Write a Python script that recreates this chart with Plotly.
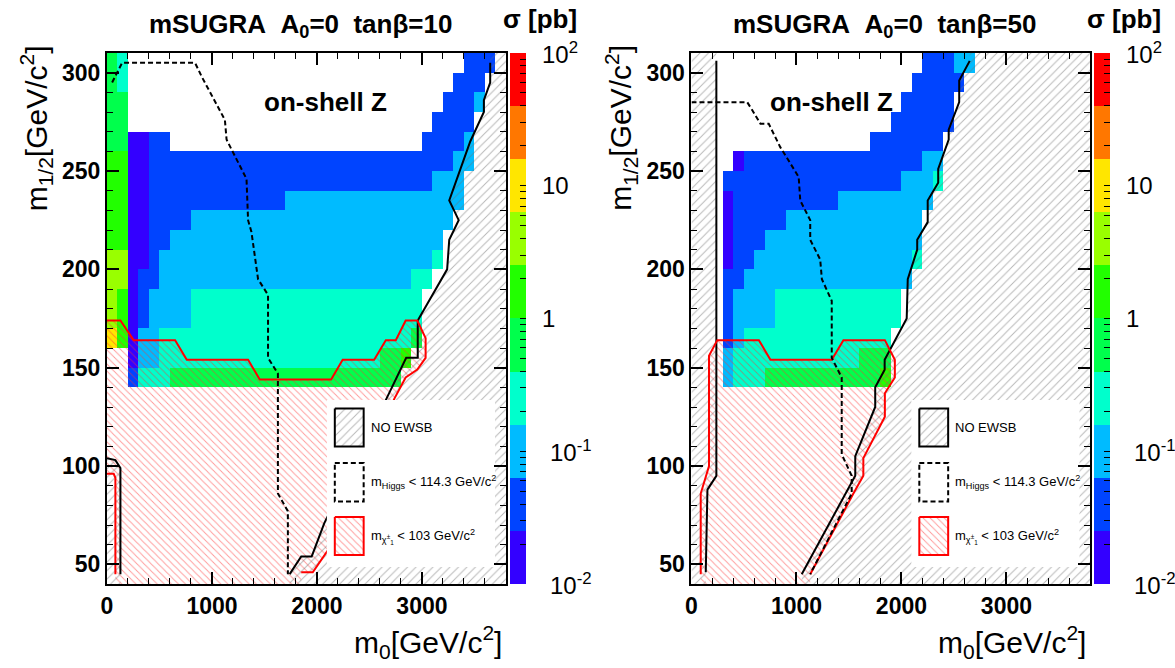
import numpy as np
import plotly.graph_objects as go

W, H = 1175, 668
FONT = "Liberation Sans, Arial, Helvetica, sans-serif"

# ---------------- data ----------------
M0_EDGES = list(range(0, 3900, 100))      # m0 bin edges [GeV]
M12_EDGES = list(range(40, 320, 10))      # m1/2 bin edges [GeV]
M0_RANGE = [0, 3800]
M12_RANGE = [40, 310]

# sigma [pb] representative value of each colour band (10 bands from 1e-2 to 1e2)
SIGMA_BAND = [0.0158, 0.0398, 0.1, 0.251, 0.631, 1.585, 3.98, 10.0, 25.1, 63.1]
BAND_COLORS = ["#3300ff", "#0044ff", "#00bbff", "#00ffcc", "#00ff4c",
               "#22ff00", "#99ff00", "#ffe600", "#ff7700", "#ff0000"]

# run-length rows of band index per 100 GeV m0 cell, top row = m1/2 300-310, '.' = no point
GRID_TAN10 = [
    [('4', 1), ('3', 1), ('.', 32), ('1', 3), ('.', 1)],
    [('4', 1), ('3', 1), ('.', 31), ('1', 3), ('.', 2)],
    [('4', 2), ('.', 30), ('1', 3), ('2', 1), ('.', 2)],
    [('4', 2), ('.', 29), ('1', 4), ('.', 3)],
    [('4', 2), ('0', 2), ('1', 2), ('.', 24), ('1', 4), ('2', 1), ('.', 3)],
    [('5', 2), ('0', 2), ('1', 29), ('2', 2), ('.', 3)],
    [('5', 2), ('0', 2), ('1', 27), ('2', 3), ('.', 4)],
    [('5', 2), ('0', 2), ('1', 13), ('2', 17), ('.', 4)],
    [('5', 2), ('0', 2), ('1', 4), ('2', 25), ('.', 5)],
    [('5', 2), ('0', 2), ('1', 2), ('2', 26), ('.', 6)],
    [('6', 2), ('0', 2), ('1', 1), ('2', 26), ('3', 1), ('.', 6)],
    [('6', 2), ('0', 1), ('1', 2), ('2', 24), ('3', 2), ('.', 7)],
    [('6', 1), ('5', 1), ('0', 1), ('1', 1), ('2', 4), ('3', 22), ('.', 8)],
    [('6', 1), ('5', 1), ('0', 1), ('1', 1), ('2', 4), ('3', 22), ('.', 8)],
    [('7', 1), ('5', 1), ('0', 1), ('2', 2), ('3', 24), ('4', 1), ('.', 8)],
    [('.', 2), ('0', 1), ('2', 2), ('3', 21), ('4', 2), ('5', 1), ('.', 9)],
    [('.', 2), ('1', 1), ('3', 3), ('4', 22), ('.', 10)],
] + [[('.', 38)]] * 10

GRID_TAN50 = [
    [('.', 22), ('1', 3), ('2', 2), ('.', 11)],
    [('.', 21), ('1', 5), ('.', 12)],
    [('.', 20), ('1', 5), ('.', 13)],
    [('.', 19), ('1', 6), ('.', 13)],
    [('.', 17), ('1', 7), ('.', 14)],
    [('.', 4), ('0', 1), ('1', 17), ('2', 2), ('.', 14)],
    [('.', 3), ('1', 17), ('2', 3), ('3', 1), ('.', 14)],
    [('.', 3), ('0', 1), ('1', 10), ('2', 9), ('.', 15)],
    [('.', 3), ('0', 1), ('1', 5), ('2', 13), ('.', 16)],
    [('.', 3), ('0', 1), ('1', 3), ('2', 15), ('.', 16)],
    [('.', 3), ('0', 1), ('1', 2), ('2', 15), ('3', 1), ('.', 16)],
    [('.', 3), ('1', 2), ('2', 16), ('.', 17)],
    [('.', 3), ('1', 1), ('2', 4), ('3', 12), ('.', 18)],
    [('.', 3), ('1', 1), ('2', 4), ('3', 12), ('.', 18)],
    [('.', 3), ('1', 1), ('2', 1), ('3', 14), ('.', 19)],
    [('.', 3), ('2', 1), ('3', 12), ('4', 3), ('.', 19)],
    [('.', 3), ('2', 1), ('3', 3), ('4', 11), ('5', 1), ('.', 19)],
] + [[('.', 38)]] * 10

# ---- tan beta = 10 contours ----
EWSB10_X = [3650, 3650, 3590, 3590, 3460, 3260, 3350, 3260, 3240, 2960, 2960, 2850, 2660, 2070, 1950, 1850, 1740]
EWSB10_Y = [305, 295, 286, 280, 265, 235, 225, 215, 200, 174, 155, 155, 134, 71, 54, 54, 45]
EWSB10C_X = [0, 80, 128, 128]
EWSB10C_Y = [104, 103, 99, 45]
HIGGS10_X = [49, 112, 144, 839, 902, 1123, 1139, 1186, 1329, 1344, 1376, 1439, 1534, 1534, 1628, 1628, 1723, 1723]
HIGGS10_Y = [295, 302, 305, 305, 298, 276, 266, 261, 246, 225, 219, 195, 187, 155, 147, 86, 77, 45]
CHI10_X = [0, 128, 254, 649, 760, 1344, 1455, 2135, 2245, 2545, 2656, 2751, 2845, 2956, 3035, 3035, 2956, 2845, 2735, 2166, 1960, 1850]
CHI10_Y = [174, 174, 164, 164, 154, 154, 144, 144, 154, 154, 164, 164, 174, 174, 165, 155, 149, 145, 134, 62, 46, 46]
CHI10C_X = [0, 64, 80, 80]
CHI10C_Y = [96, 96, 94, 45]

# ---- tan beta = 50 contours ----
EWSB50L_X = [237, 237, 152, 136]
EWSB50L_Y = [306, 95, 88, 46]
EWSB50R_X = [2650, 2550, 2550, 2450, 2450, 2350, 2350, 2250, 2250, 2150, 2150, 2060, 2050, 1940, 1840, 1840, 1750, 1750, 1560, 1560, 1050]
EWSB50R_Y = [306, 296, 285, 271, 266, 251, 244, 235, 224, 215, 210, 195, 175, 164, 154, 149, 140, 130, 105, 95, 45]
HIGGS50_X = [0, 531, 578, 657, 736, 847, 1021, 1036, 1131, 1131, 1226, 1242, 1336, 1336, 1431, 1431, 1526, 1526, 1131]
HIGGS50_Y = [285, 285, 281, 274, 274, 262, 247, 235, 225, 215, 205, 195, 184, 155, 145, 106, 95, 86, 45]
CHI50_X = [88, 88, 167, 167, 246, 642, 752, 1336, 1447, 1842, 1937, 1937, 1842, 1842, 1637, 1637, 1542, 1131]
CHI50_Y = [45, 86, 100, 156, 164, 164, 154, 154, 164, 164, 154, 145, 137, 125, 104, 95, 86, 45]

TITLES = ["mSUGRA\u00a0\u00a0A<sub>0</sub>=0\u00a0\u00a0tanβ=10",
          "mSUGRA\u00a0\u00a0A<sub>0</sub>=0\u00a0\u00a0tanβ=50"]
LEGEND_TEXT = ["NO EWSB",
               "m<sub>Higgs</sub> < 114.3 GeV/c<sup>2</sup>",
               "m<sub>χ<sup>±</sup><sub>1</sub></sub> < 103 GeV/c<sup>2</sup>"]
CB_LABELS = [(-2, "10<sup>-2</sup>"), (-1, "10<sup>-1</sup>"), (0, "1"), (1, "10"), (2, "10<sup>2</sup>")]

# ---------------- layout geometry (pixels) ----------------
PANEL_X = [(101.5, 502.5), (689.0, 1090.0)]
PY_TOP, PY_BOT = 53.0, 584.0
CB_X = [507.0, 1094.0]
ONSHELL_DX = [220, 141]


def expand(runs):
    s = "".join(ch * n for ch, n in runs)
    assert len(s) == 38, len(s)
    return s


def grid_to_z(rows):
    z = []
    for runs in reversed(rows):
        s = expand(runs)
        z.append([None if c == "." else float(np.log10(SIGMA_BAND[int(c)])) for c in s])
    return z


def p2d(ip, px, py):
    x0, x1 = PANEL_X[ip]
    X = M0_RANGE[0] + (px - x0) / (x1 - x0) * (M0_RANGE[1] - M0_RANGE[0])
    Y = M12_RANGE[0] + (PY_BOT - py) / (PY_BOT - PY_TOP) * (M12_RANGE[1] - M12_RANGE[0])
    return X, Y


def rect(ip, pxa, pya, pxb, pyb):
    xa, ya = p2d(ip, pxa, pya)
    xb, yb = p2d(ip, pxb, pyb)
    return [xa, xb, xb, xa, xa], [ya, ya, yb, yb, ya]


colorscale = []
for i, c in enumerate(BAND_COLORS):
    colorscale.append([i / 10, c])
    colorscale.append([(i + 1) / 10, c])

fig = go.Figure()

GRAY = dict(shape="/", fgcolor="#707070", size=6, solidity=0.16)
RED = dict(shape="\\", fgcolor="#ff3030", size=5, solidity=0.18)
NOFILL = "rgba(0,0,0,0)"

panels = [
    dict(grid=GRID_TAN10,
         red_poly=(CHI10_X + [CHI10_X[-1], CHI10C_X[-1]] + CHI10C_X[::-1],
                   CHI10_Y + [M12_RANGE[0], M12_RANGE[0]] + CHI10C_Y[::-1]),
         gray_polys=[
             (EWSB10_X + [EWSB10_X[-1], M0_RANGE[1], M0_RANGE[1], EWSB10_X[0]],
              EWSB10_Y + [M12_RANGE[0], M12_RANGE[0], M12_RANGE[1], M12_RANGE[1]]),
             (EWSB10C_X + [EWSB10C_X[-1], 0], EWSB10C_Y + [M12_RANGE[0], M12_RANGE[0]]),
         ],
         black=[(EWSB10_X, EWSB10_Y), (EWSB10C_X, EWSB10C_Y)],
         dashed=[(HIGGS10_X, HIGGS10_Y)],
         red=[(CHI10_X, CHI10_Y), (CHI10C_X, CHI10C_Y)]),
    dict(grid=GRID_TAN50,
         red_poly=(CHI50_X + [CHI50_X[-1], CHI50_X[0]],
                   CHI50_Y + [M12_RANGE[0], M12_RANGE[0]]),
         gray_polys=[
             (EWSB50L_X + [EWSB50L_X[-1], 0, 0, EWSB50L_X[0]],
              EWSB50L_Y + [M12_RANGE[0], M12_RANGE[0], M12_RANGE[1], M12_RANGE[1]]),
             (EWSB50R_X + [EWSB50R_X[-1], M0_RANGE[1], M0_RANGE[1], EWSB50R_X[0]],
              EWSB50R_Y + [M12_RANGE[0], M12_RANGE[0], M12_RANGE[1], M12_RANGE[1]]),
         ],
         black=[(EWSB50L_X, EWSB50L_Y), (EWSB50R_X, EWSB50R_Y)],
         dashed=[(HIGGS50_X, HIGGS50_Y)],
         red=[(CHI50_X, CHI50_Y)]),
]

annotations = []
for ip, P in enumerate(panels):
    xa = "x" if ip == 0 else "x2"
    ya = "y" if ip == 0 else "y2"
    ca = "coloraxis" if ip == 0 else "coloraxis2"
    fig.add_trace(go.Heatmap(x=M0_EDGES, y=M12_EDGES, z=grid_to_z(P["grid"]),
                             coloraxis=ca, xaxis=xa, yaxis=ya, hoverongaps=False))
    rx, ry = P["red_poly"]
    fig.add_trace(go.Scatter(x=rx, y=ry, mode="lines", fill="toself", fillcolor=NOFILL,
                             fillpattern=RED, line=dict(width=0), xaxis=xa, yaxis=ya,
                             showlegend=False, hoverinfo="skip"))
    for gx, gy in P["gray_polys"]:
        fig.add_trace(go.Scatter(x=gx, y=gy, mode="lines", fill="toself", fillcolor=NOFILL,
                                 fillpattern=GRAY, line=dict(width=0), xaxis=xa, yaxis=ya,
                                 showlegend=False, hoverinfo="skip"))
    for lx, ly in P["black"]:
        fig.add_trace(go.Scatter(x=lx, y=ly, mode="lines", line=dict(color="black", width=2),
                                 xaxis=xa, yaxis=ya, showlegend=False, hoverinfo="skip"))
    for lx, ly in P["red"]:
        fig.add_trace(go.Scatter(x=lx, y=ly, mode="lines", line=dict(color="red", width=2),
                                 xaxis=xa, yaxis=ya, showlegend=False, hoverinfo="skip"))
    for lx, ly in P["dashed"]:
        fig.add_trace(go.Scatter(x=lx, y=ly, mode="lines",
                                 line=dict(color="black", width=2, dash="5px,3px"),
                                 xaxis=xa, yaxis=ya, showlegend=False, hoverinfo="skip"))

    # legend box
    x0 = PANEL_X[ip][0]
    bx, by = rect(ip, x0 + 221, 400, x0 + 390, 567)
    fig.add_trace(go.Scatter(x=bx, y=by, mode="lines", fill="toself", fillcolor="white",
                             line=dict(width=0), xaxis=xa, yaxis=ya, showlegend=False,
                             hoverinfo="skip"))
    rows = [(408.5, 446.5), (463.0, 501.5), (517.0, 555.0)]
    styles = [dict(line=dict(color="black", width=2), pat=GRAY),
              dict(line=dict(color="black", width=2, dash="5px,3px"), pat=None),
              dict(line=dict(color="red", width=2), pat=RED)]
    for (ta, tb), st, txt in zip(rows, styles, LEGEND_TEXT):
        lx, ly = rect(ip, x0 + 229, ta, x0 + 258, tb)
        kw = dict(fill="toself", fillcolor=NOFILL, fillpattern=st["pat"]) if st["pat"] else {}
        fig.add_trace(go.Scatter(x=lx, y=ly, mode="lines", line=st["line"], xaxis=xa, yaxis=ya,
                                 showlegend=False, hoverinfo="skip", **kw))
        annotations.append(dict(x=(x0 + 263) / W, y=1 - ((ta + tb) / 2) / H, xref="paper",
                                yref="paper", text=txt, showarrow=False, xanchor="left",
                                yanchor="middle", font=dict(family=FONT, size=13, color="black")))

    # texts
    cx = (PANEL_X[ip][0] + PANEL_X[ip][1]) / 2
    annotations.append(dict(x=(cx - 6) / W, y=1 - 25 / H, xref="paper", yref="paper",
                            text=TITLES[ip], showarrow=False, xanchor="center", yanchor="middle",
                            font=dict(family=FONT, size=26, color="black", weight="bold")))
    annotations.append(dict(x=(CB_X[ip] + 30) / W, y=1 - 19 / H, xref="paper", yref="paper",
                            text="σ [pb]", showarrow=False, xanchor="center", yanchor="middle",
                            font=dict(family=FONT, size=26, color="black", weight="bold")))
    annotations.append(dict(x=(x0 + ONSHELL_DX[ip]) / W, y=1 - 102 / H, xref="paper",
                            yref="paper", text="on-shell Z", showarrow=False, xanchor="center",
                            yanchor="middle",
                            font=dict(family=FONT, size=26, color="black", weight="bold")))
    annotations.append(dict(x=(PANEL_X[ip][1] - 2) / W, y=1 - 642 / H, xref="paper",
                            yref="paper", text="m<sub>0</sub>[GeV/c<sup>2</sup>]",
                            showarrow=False, xanchor="right", yanchor="middle",
                            font=dict(family=FONT, size=30, color="black")))
    annotations.append(dict(x=(x0 - 71) / W, y=1 - 128 / H, xref="paper", yref="paper",
                            text="m<sub>1/2</sub>[GeV/c<sup>2</sup>]", showarrow=False,
                            textangle=-90, xanchor="center", yanchor="middle",
                            font=dict(family=FONT, size=30, color="black")))
    for v, t in CB_LABELS:
        py = PY_BOT - (v + 2) / 4 * (PY_BOT - PY_TOP)
        dx = 38 if v < 0 else 30
        annotations.append(dict(x=(CB_X[ip] + dx) / W, y=1 - py / H, xref="paper",
                                yref="paper", text=t, showarrow=False, xanchor="left",
                                yanchor="middle",
                                font=dict(family=FONT, size=24, color="black")))

CB_TICKS = [float(np.log10(k * 10.0 ** n)) for n in range(-2, 2) for k in range(1, 10)] + [2.0]


def cax(ip):
    return dict(cmin=-2, cmax=2, colorscale=colorscale,
                colorbar=dict(x=CB_X[ip] / W, xanchor="left", xref="paper",
                              y=1 - ((PY_TOP + PY_BOT) / 2) / H, yanchor="middle", yref="paper",
                              len=PY_BOT - PY_TOP, lenmode="pixels", thickness=16,
                              thicknessmode="pixels", outlinewidth=0, xpad=0, ypad=0,
                              tickmode="array", tickvals=CB_TICKS, ticks="inside", ticklen=6,
                              tickcolor="black", tickwidth=1, showticklabels=False))


def xax(ip):
    return dict(domain=[PANEL_X[ip][0] / W, PANEL_X[ip][1] / W], range=M0_RANGE,
                tick0=0, dtick=1000, ticks="inside", ticklen=12, tickwidth=1.5,
                tickcolor="black", showline=True, linecolor="black", linewidth=2,
                mirror="ticks", showgrid=False, zeroline=False,
                tickfont=dict(family=FONT, size=23, color="black", weight="bold"),
                minor=dict(tick0=0, dtick=200, ticks="inside", ticklen=6, tickwidth=1,
                           tickcolor="black", showgrid=False),
                anchor="y" if ip == 0 else "y2")


def yax(ip):
    return dict(domain=[1 - PY_BOT / H, 1 - PY_TOP / H], range=M12_RANGE,
                tick0=0, dtick=50, ticks="inside", ticklen=12, tickwidth=1.5,
                tickcolor="black", showline=True, linecolor="black", linewidth=2,
                mirror="ticks", showgrid=False, zeroline=False,
                tickfont=dict(family=FONT, size=23, color="black", weight="bold"),
                minor=dict(tick0=0, dtick=10, ticks="inside", ticklen=6, tickwidth=1,
                           tickcolor="black", showgrid=False),
                anchor="x" if ip == 0 else "x2")


fig.update_layout(
    width=W, height=H, margin=dict(l=0, r=0, t=0, b=0),
    paper_bgcolor="white", plot_bgcolor="white", showlegend=False,
    xaxis=xax(0), yaxis=yax(0), xaxis2=xax(1), yaxis2=yax(1),
    coloraxis=cax(0), coloraxis2=cax(1),
    annotations=annotations,
    font=dict(family=FONT, color="black"),
)

fig.write_html("out.html")
